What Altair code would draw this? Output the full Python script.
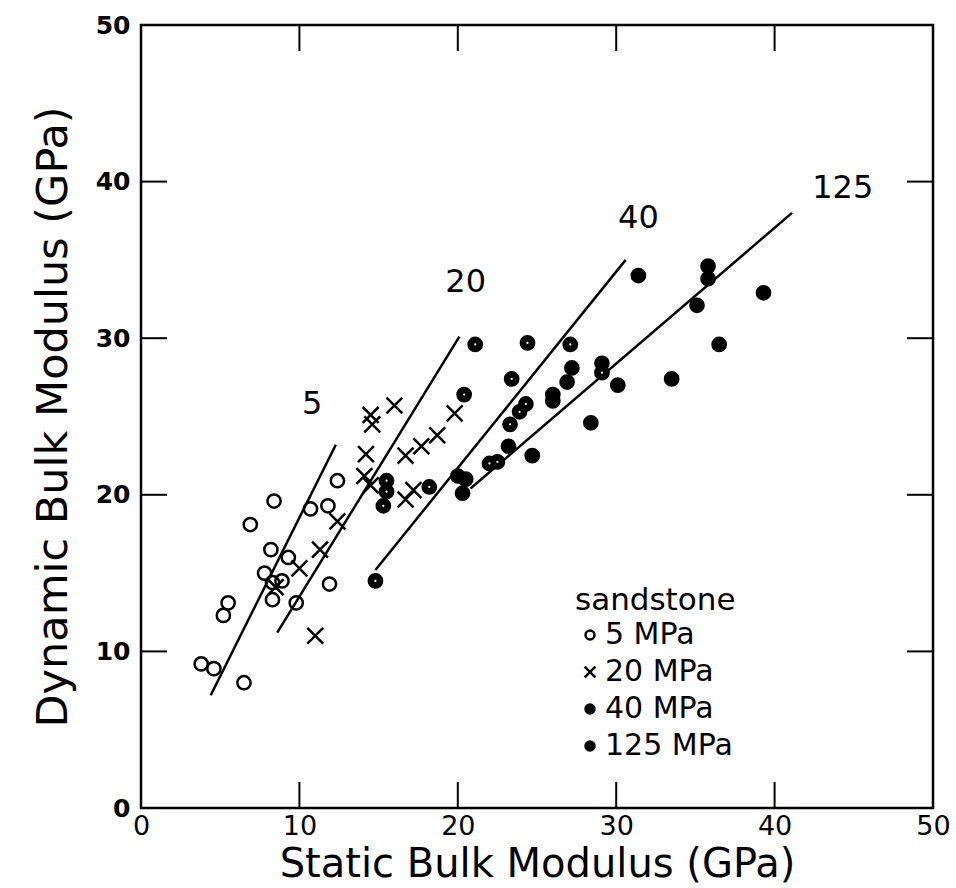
import altair as alt
import pandas as pd

# ---------------- data ----------------
series = ["5 MPa", "20 MPa", "40 MPa", "125 MPa"]

x5 = [3.8, 4.6, 6.5, 5.2, 5.5, 7.8, 8.2, 9.3, 8.9, 8.3, 8.3, 9.8, 11.9, 6.9, 8.4, 10.7, 11.8, 12.4]
y5 = [9.2, 8.9, 8.0, 12.3, 13.1, 15.0, 16.5, 16.0, 14.5, 14.4, 13.3, 13.1, 14.3, 18.1, 19.6, 19.1, 19.3, 20.9]

x20 = [8.5, 10.0, 11.3, 11.0, 12.4, 14.1, 14.5, 14.2, 14.5, 14.6, 16.0, 16.7, 17.7, 18.7, 19.8, 17.2, 16.7]
y20 = [14.1, 15.3, 16.5, 11.0, 18.3, 21.2, 20.6, 22.6, 25.1, 24.5, 25.7, 22.5, 23.1, 23.8, 25.2, 20.3, 19.7]

x40 = [14.8, 15.3, 15.5, 15.5, 18.2, 20.4, 21.1, 24.4, 27.1, 23.4, 24.3, 23.9, 23.3, 22.0, 22.5, 29.1]
y40 = [14.5, 19.3, 20.9, 20.2, 20.5, 26.4, 29.6, 29.7, 29.6, 27.4, 25.8, 25.3, 24.5, 22.0, 22.1, 27.8]

x125 = [20.0, 20.5, 20.3, 23.2, 24.7, 26.0, 26.0, 26.9, 27.2, 29.1, 28.4, 30.1, 31.4, 33.5, 35.1, 35.8, 35.8, 36.5, 39.3]
y125 = [21.2, 21.0, 20.1, 23.1, 22.5, 26.4, 26.0, 27.2, 28.1, 28.4, 24.6, 27.0, 34.0, 27.4, 32.1, 34.6, 33.8, 29.6, 32.9]

# fitted lines (start / end points)
line_x1 = [4.4, 8.6, 14.8, 20.8]
line_y1 = [7.2, 11.2, 15.2, 20.4]
line_x2 = [12.3, 20.1, 30.6, 41.1]
line_y2 = [23.2, 30.1, 35.0, 38.0]

# line annotations
ann_text = ["5", "20", "40", "125"]
ann_x = [10.8, 20.5, 31.4, 44.3]
ann_y = [25.8, 33.6, 37.7, 39.6]

tick_vals = [10, 20, 30, 40]
label_vals = [0, 10, 20, 30, 40, 50]

# ---------------- tables ----------------
rows = []
for s, xs_, ys_ in zip(series, [x5, x20, x40, x125], [y5, y20, y40, y125]):
    for a, b in zip(xs_, ys_):
        rows.append({"x": a, "y": b, "series": s})
pts = pd.DataFrame(rows)
pts40 = pts[pts.series == "40 MPa"]

lines = pd.DataFrame({"x": line_x1, "y": line_y1, "x2": line_x2, "y2": line_y2})
ann = pd.DataFrame({"x": ann_x, "y": ann_y, "t": ann_text})
ticks = pd.DataFrame({"x": tick_vals, "y": tick_vals})

W, H = 792, 783
FONT = "DejaVu Sans"
TICK = 26

xsc = alt.Scale(domain=[0, 50], nice=False, zero=False)
ysc = alt.Scale(domain=[0, 50], nice=False, zero=False)

xax = alt.Axis(
    values=label_vals, ticks=False, domain=False, grid=False,
    title="Static Bulk Modulus (GPa)", titleFont=FONT, titleFontSize=40,
    titleFontWeight="normal", titleColor="black", titlePadding=5,
    labelFont=FONT, labelFontSize=27, labelColor="black", labelPadding=5,
    labelFlush=False, format="d")
yax = alt.Axis(
    values=label_vals, ticks=False, domain=False, grid=False,
    title="Dynamic Bulk Modulus (GPa)", titleFont=FONT, titleFontSize=43,
    titleFontWeight="normal", titleColor="black", titlePadding=20,
    labelFont=FONT, labelFontSize=25, labelFontWeight="bold", labelColor="black",
    labelPadding=11, labelFlush=False, format="d")

X = lambda f="x": alt.X(f"{f}:Q", scale=xsc, axis=xax)
Y = lambda f="y": alt.Y(f"{f}:Q", scale=ysc, axis=yax)

X_PATH = "M-1.2,-1.2L1.2,1.2M1.2,-1.2L-1.2,1.2"

legend = alt.Legend(
    title="sandstone", orient="none", legendX=434, legendY=561,
    titleFontSize=31, titleFont=FONT, titleFontWeight="normal", titleColor="black",
    labelFontSize=30, labelFont=FONT, labelColor="black",
    symbolSize=80, symbolStrokeWidth=2.5,
    labelOffset=0, rowPadding=7, titlePadding=3, padding=0,
)

points = alt.Chart(pts).mark_point(strokeWidth=2.5, opacity=1, size=175).encode(
    x=X(), y=Y(),
    shape=alt.Shape("series:N", scale=alt.Scale(domain=series, range=["circle", X_PATH, "circle", "circle"]), legend=legend),
    fill=alt.Fill("series:N", scale=alt.Scale(domain=series, range=["transparent", "transparent", "black", "black"]), legend=legend),
    stroke=alt.Stroke("series:N", scale=alt.Scale(domain=series, range=["black", "black", "black", "black"]), legend=legend),
)

centers = alt.Chart(pts40).mark_point(shape="circle", filled=True, color="white", size=5, opacity=1).encode(
    x=X(), y=Y(),
)

segs = alt.Chart(lines).mark_rule(color="black", strokeWidth=2.5).encode(
    x=X(), y=Y(), x2="x2:Q", y2="y2:Q",
)

labels = alt.Chart(ann).mark_text(font=FONT, fontSize=32, color="black", align="center", baseline="middle").encode(
    x=X(), y=Y(), text="t:N",
)

tb = alt.Chart(ticks).mark_rule(color="black", strokeWidth=2).encode(
    x=X(), y=alt.value(H), y2=alt.value(H - TICK))
tt = alt.Chart(ticks).mark_rule(color="black", strokeWidth=2).encode(
    x=X(), y=alt.value(0), y2=alt.value(TICK))
tl = alt.Chart(ticks).mark_rule(color="black", strokeWidth=2).encode(
    y=Y(), x=alt.value(0), x2=alt.value(TICK))
tr = alt.Chart(ticks).mark_rule(color="black", strokeWidth=2).encode(
    y=Y(), x=alt.value(W), x2=alt.value(W - TICK))

chart = alt.layer(points, tb, tt, tl, tr, segs, centers, labels).properties(
    width=W, height=H,
    padding={"left": 141, "top": 25, "right": 23, "bottom": 80},
    autosize=alt.AutoSizeParams(type="none"),
    background="white",
).configure_view(stroke="black", strokeWidth=2.5)

chart.save("out.html", embed_options={"renderer": "svg", "actions": False})
